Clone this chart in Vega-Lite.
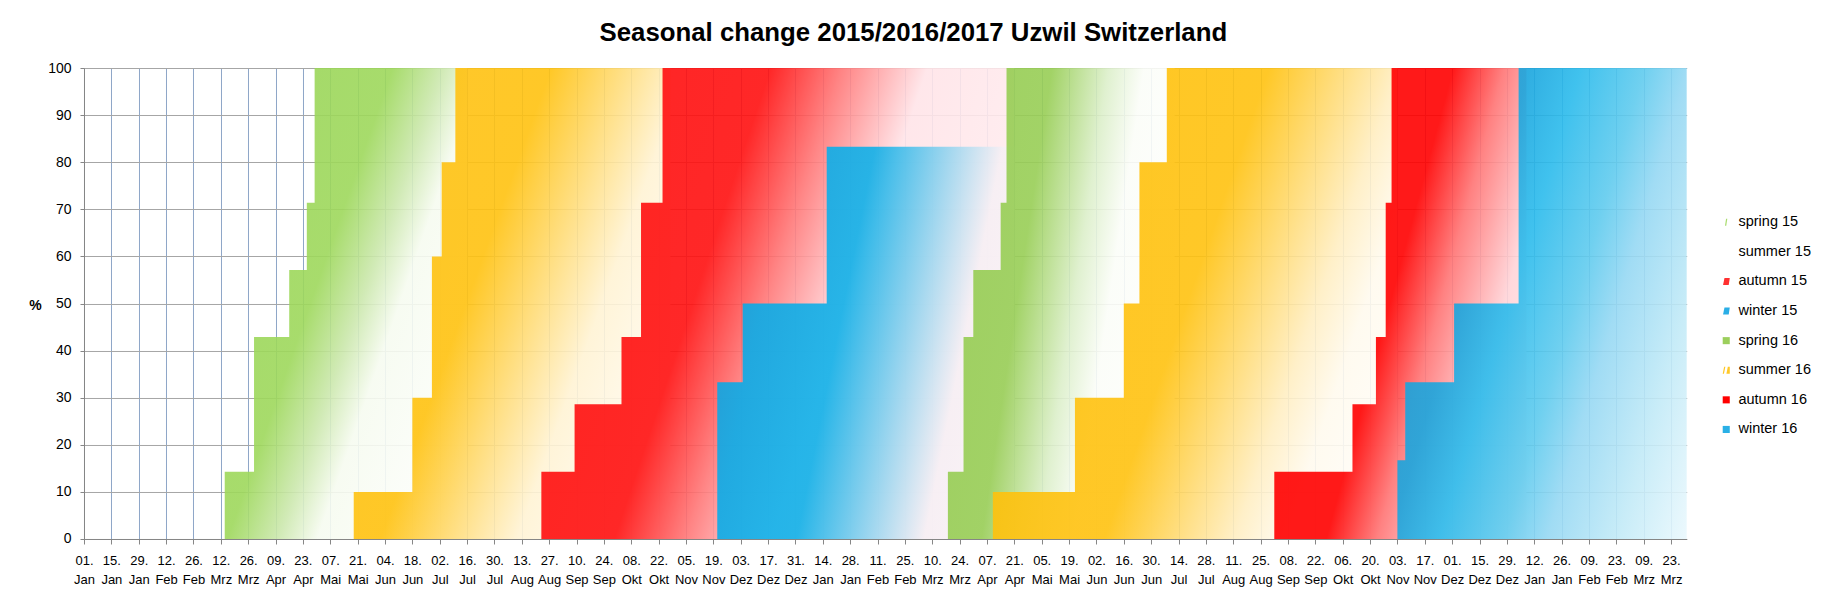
{
  "$schema": "https://vega.github.io/schema/vega-lite/v6.json",
  "width": 1602.7,
  "height": 471,
  "autosize": {"type": "none"},
  "padding": {"left": 84, "top": 68, "right": 142, "bottom": 61},
  "background": "white",
  "title": {
    "text": "Seasonal change 2015/2016/2017 Uzwil Switzerland",
    "font": "Liberation Sans",
    "fontSize": 25.8,
    "fontWeight": "bold",
    "color": "#000000",
    "anchor": "middle",
    "dx": 28,
    "dy": 34,
    "offset": 28,
    "baseline": "alphabetic"
  },
  "config": {
    "view": {"stroke": null},
    "font": "Liberation Sans",
    "axis": {"labelFont": "Liberation Sans", "titleFont": "Liberation Sans", "labelColor": "#000000", "titleColor": "#000000"},
    "legend": {"labelFont": "Liberation Sans"}
  },
  "data": {
    "values": [
      {"series": "spring 15", "date": "2015-03-14", "pct": 14.3},
      {"series": "spring 15", "date": "2015-03-29", "pct": 42.9},
      {"series": "spring 15", "date": "2015-04-16", "pct": 57.1},
      {"series": "spring 15", "date": "2015-04-25", "pct": 71.4},
      {"series": "spring 15", "date": "2015-04-29", "pct": 100},
      {"series": "spring 15", "date": "2015-07-16", "pct": 100},
      {"series": "summer 15", "date": "2015-05-19", "pct": 10},
      {"series": "summer 15", "date": "2015-06-18", "pct": 30},
      {"series": "summer 15", "date": "2015-06-28", "pct": 60},
      {"series": "summer 15", "date": "2015-07-03", "pct": 80},
      {"series": "summer 15", "date": "2015-07-10", "pct": 100},
      {"series": "summer 15", "date": "2015-10-28", "pct": 100},
      {"series": "autumn 15", "date": "2015-08-23", "pct": 14.3},
      {"series": "autumn 15", "date": "2015-09-09", "pct": 28.6},
      {"series": "autumn 15", "date": "2015-10-03", "pct": 42.9},
      {"series": "autumn 15", "date": "2015-10-13", "pct": 71.4},
      {"series": "autumn 15", "date": "2015-10-24", "pct": 100},
      {"series": "autumn 15", "date": "2016-04-21", "pct": 100},
      {"series": "winter 15", "date": "2015-11-21", "pct": 33.3},
      {"series": "winter 15", "date": "2015-12-04", "pct": 50},
      {"series": "winter 15", "date": "2016-01-16", "pct": 83.3},
      {"series": "winter 15", "date": "2016-04-21", "pct": 83.3},
      {"series": "spring 16", "date": "2016-03-18", "pct": 14.3},
      {"series": "spring 16", "date": "2016-03-26", "pct": 42.9},
      {"series": "spring 16", "date": "2016-03-31", "pct": 57.1},
      {"series": "spring 16", "date": "2016-04-14", "pct": 71.4},
      {"series": "spring 16", "date": "2016-04-17", "pct": 100},
      {"series": "spring 16", "date": "2016-07-12", "pct": 100},
      {"series": "summer 16", "date": "2016-04-10", "pct": 10},
      {"series": "summer 16", "date": "2016-05-22", "pct": 30},
      {"series": "summer 16", "date": "2016-06-16", "pct": 50},
      {"series": "summer 16", "date": "2016-06-24", "pct": 80},
      {"series": "summer 16", "date": "2016-07-08", "pct": 100},
      {"series": "summer 16", "date": "2016-11-03", "pct": 100},
      {"series": "autumn 16", "date": "2016-09-01", "pct": 14.3},
      {"series": "autumn 16", "date": "2016-10-11", "pct": 28.6},
      {"series": "autumn 16", "date": "2016-10-23", "pct": 42.9},
      {"series": "autumn 16", "date": "2016-10-28", "pct": 71.4},
      {"series": "autumn 16", "date": "2016-10-31", "pct": 100},
      {"series": "autumn 16", "date": "2017-01-08", "pct": 100},
      {"series": "winter 16", "date": "2016-11-03", "pct": 16.7},
      {"series": "winter 16", "date": "2016-11-07", "pct": 33.3},
      {"series": "winter 16", "date": "2016-12-02", "pct": 50},
      {"series": "winter 16", "date": "2017-01-04", "pct": 100},
      {"series": "winter 16", "date": "2017-03-31", "pct": 100}
    ]
  },
  "encoding": {
    "x": {
      "field": "date",
      "type": "temporal",
      "scale": {
        "type": "utc",
        "domain": [{"year": 2015, "month": 1, "date": 1, "utc": true}, {"year": 2017, "month": 3, "date": 31, "utc": true}],
        "nice": false
      },
      "axis": {
        "title": null,
        "values": [1420070400000, 1421280000000, 1422489600000, 1423699200000, 1424908800000, 1426118400000, 1427328000000, 1428537600000, 1429747200000, 1430956800000, 1432166400000, 1433376000000, 1434585600000, 1435795200000, 1437004800000, 1438214400000, 1439424000000, 1440633600000, 1441843200000, 1443052800000, 1444262400000, 1445472000000, 1446681600000, 1447891200000, 1449100800000, 1450310400000, 1451520000000, 1452729600000, 1453939200000, 1455148800000, 1456358400000, 1457568000000, 1458777600000, 1459987200000, 1461196800000, 1462406400000, 1463616000000, 1464825600000, 1466035200000, 1467244800000, 1468454400000, 1469664000000, 1470873600000, 1472083200000, 1473292800000, 1474502400000, 1475712000000, 1476921600000, 1478131200000, 1479340800000, 1480550400000, 1481760000000, 1482969600000, 1484179200000, 1485388800000, 1486598400000, 1487808000000, 1489017600000, 1490227200000],
        "labelExpr": "[utcFormat(datum.value, '%d.'), ['Jan','Feb','Mrz','Apr','Mai','Jun','Jul','Aug','Sep','Okt','Nov','Dez'][utcmonth(datum.value)]]",
        "labelOverlap": false,
        "labelFlush": false,
        "labelBound": false,
        "labelAngle": 0,
        "labelAlign": "center",
        "labelBaseline": "top",
        "labelFontSize": 13,
        "labelLineHeight": 19,
        "labelPadding": 11,
        "tickSize": 5,
        "tickColor": "#868686",
        "domainColor": "#868686",
        "grid": true,
        "gridColor": "#8ea6c8",
        "gridWidth": 1
      }
    },
    "y": {
      "field": "pct",
      "type": "quantitative",
      "scale": {"domain": [0, 100], "nice": false},
      "axis": {
        "values": [0, 10, 20, 30, 40, 50, 60, 70, 80, 90, 100],
        "title": "%",
        "titleAngle": 0,
        "titleX": -49,
        "titleY": 238,
        "titleAlign": "center",
        "titleBaseline": "middle",
        "titleFontSize": 14,
        "titleFontWeight": "bold",
        "labelFontSize": 14,
        "tickSize": 4,
        "labelPadding": 9,
        "tickColor": "#868686",
        "domainColor": "#868686",
        "grid": true,
        "gridColor": "#a6a6a6",
        "gridWidth": 1
      }
    }
  },
  "layer": [
    {
      "mark": {"type": "point", "filled": true, "opacity": 0},
      "encoding": {
        "color": {
          "field": "series",
          "type": "nominal",
          "scale": {
            "domain": ["spring 15", "summer 15", "autumn 15", "winter 15", "spring 16", "summer 16", "autumn 16", "winter 16"],
            "range": ["#a9dc6e", "#ffffff", "#ff3030", "#2aaee6", "#9ccf5c", "#ffc828", "#ff0000", "#2ab0e6"]
          },
          "legend": {"title": null, "orient": "none", "legendX": 1635, "legendY": 147, "symbolSize": 50, "labelFontSize": 14.5, "labelOffset": 5, "rowPadding": 14.6, "symbolOpacity": 1, "symbolStrokeWidth": 0, "padding": 0, "labelColor": "#000000"}
        },
        "shape": {
          "field": "series",
          "type": "nominal",
          "scale": {
            "domain": ["spring 15", "summer 15", "autumn 15", "winter 15", "spring 16", "summer 16", "autumn 16", "winter 16"],
            "range": ["M-0.35,1L-0.05,-1L0.3,-1L0,1Z", "square", "M-0.9,1L-0.5,-1L1,-1L0.7,1Z", "M-0.9,1L-0.5,-1L1,-1L0.7,1Z", "square", "M-1,1L-0.6,-1L-0.25,-1L-0.65,1Z M0.05,1L0.45,-1L1,-1L1,1Z", "square", "square"]
          },
          "legend": {"title": null, "orient": "none", "legendX": 1635, "legendY": 147, "symbolSize": 50, "labelFontSize": 14.5, "labelOffset": 5, "rowPadding": 14.6, "symbolOpacity": 1, "symbolStrokeWidth": 0, "padding": 0, "labelColor": "#000000"}
        }
      }
    },
    {
      "transform": [{"filter": "datum.series === 'spring 15'"}],
      "mark": {"type": "area", "interpolate": "step-after", "fillOpacity": 0.9,
        "fill": {"gradient": "linear", "x1": 0, "y1": 0, "x2": 1.1, "y2": 0.75, "stops": [
          {"offset": 0, "color": "#98d456"}, {"offset": 0.43, "color": "#9ed85c"}, {"offset": 0.56, "color": "#cce8ae"}, {"offset": 0.66, "color": "#f6fbf0"}, {"offset": 1, "color": "#ffffff"}]}}
    },
    {
      "transform": [{"filter": "datum.series === 'summer 15'"}],
      "mark": {"type": "area", "interpolate": "step-after", "fillOpacity": 0.9,
        "fill": {"gradient": "linear", "x1": 0, "y1": 0, "x2": 1.15, "y2": 0.62, "stops": [
          {"offset": 0, "color": "#ffc114"}, {"offset": 0.42, "color": "#ffc210"}, {"offset": 0.71, "color": "#fff3d4"}, {"offset": 1, "color": "#ffffff"}]}}
    },
    {
      "transform": [{"filter": "datum.series === 'autumn 15'"}],
      "mark": {"type": "area", "interpolate": "step-after", "fillOpacity": 0.9,
        "fill": {"gradient": "linear", "x1": 0, "y1": 0, "x2": 1.15, "y2": 0.38, "stops": [
          {"offset": 0, "color": "#ff0c0c"}, {"offset": 0.38, "color": "#ff1010"}, {"offset": 0.5, "color": "#ff7878"}, {"offset": 0.64, "color": "#ffe4e8"}, {"offset": 1, "color": "#fff1f3"}]}}
    },
    {
      "transform": [{"filter": "datum.series === 'winter 15'"}],
      "mark": {"type": "area", "interpolate": "step-after", "fillOpacity": 0.9,
        "fill": {"gradient": "linear", "x1": 0, "y1": 0, "x2": 1.1817, "y2": 0.3122, "stops": [
          {"offset": 0, "color": "#129edc"}, {"offset": 0.2, "color": "#09ace8"}, {"offset": 0.42, "color": "#10b0e8"}, {"offset": 0.62, "color": "#98d5ef"}, {"offset": 0.76, "color": "#f6eff4"}, {"offset": 1, "color": "#fbf5f8"}]}}
    },
    {
      "transform": [{"filter": "datum.series === 'spring 16'"}],
      "mark": {"type": "area", "interpolate": "step-after", "fillOpacity": 0.9,
        "fill": {"gradient": "linear", "x1": 0, "y1": 0, "x2": 1.1955, "y2": 0.3726, "stops": [
          {"offset": 0, "color": "#93cb4e"}, {"offset": 0.35, "color": "#98ce56"}, {"offset": 0.54, "color": "#dcefca"}, {"offset": 0.66, "color": "#fbfdf8"}, {"offset": 1, "color": "#ffffff"}]}}
    },
    {
      "transform": [{"filter": "datum.series === 'summer 16'"}],
      "mark": {"type": "area", "interpolate": "step-after", "fillOpacity": 0.9,
        "fill": {"gradient": "linear", "x1": 0, "y1": 0, "x2": 1.2071, "y2": 0.4918, "stops": [
          {"offset": 0, "color": "#f4b900"}, {"offset": 0.2, "color": "#ffc10c"}, {"offset": 0.485, "color": "#ffc210"}, {"offset": 0.713, "color": "#ffeec2"}, {"offset": 0.8, "color": "#fffaee"}, {"offset": 1, "color": "#ffffff"}]}}
    },
    {
      "transform": [{"filter": "datum.series === 'autumn 16'"}],
      "mark": {"type": "area", "interpolate": "step-after", "fillOpacity": 0.9,
        "fill": {"gradient": "linear", "x1": 0, "y1": 0, "x2": 1.1993, "y2": 0.6051, "stops": [
          {"offset": 0, "color": "#ff0000"}, {"offset": 0.472, "color": "#ff0000"}, {"offset": 0.606, "color": "#ff7474"}, {"offset": 0.775, "color": "#ffd4d8"}, {"offset": 1, "color": "#fff1f1"}]}}
    },
    {
      "transform": [{"filter": "datum.series === 'winter 16'"}],
      "mark": {"type": "area", "interpolate": "step-after", "fillOpacity": 0.9,
        "fill": {"gradient": "linear", "x1": 0, "y1": 0, "x2": 1.2017, "y2": 0.587, "stops": [
          {"offset": 0, "color": "#179ed8"}, {"offset": 0.309, "color": "#1aa6de"}, {"offset": 0.425, "color": "#2bbbec"}, {"offset": 0.574, "color": "#60cbee"}, {"offset": 0.676, "color": "#96d8f3"}, {"offset": 0.838, "color": "#c2eaf7"}, {"offset": 1, "color": "#eaf8fd"}]}}
    }
  ]
}
